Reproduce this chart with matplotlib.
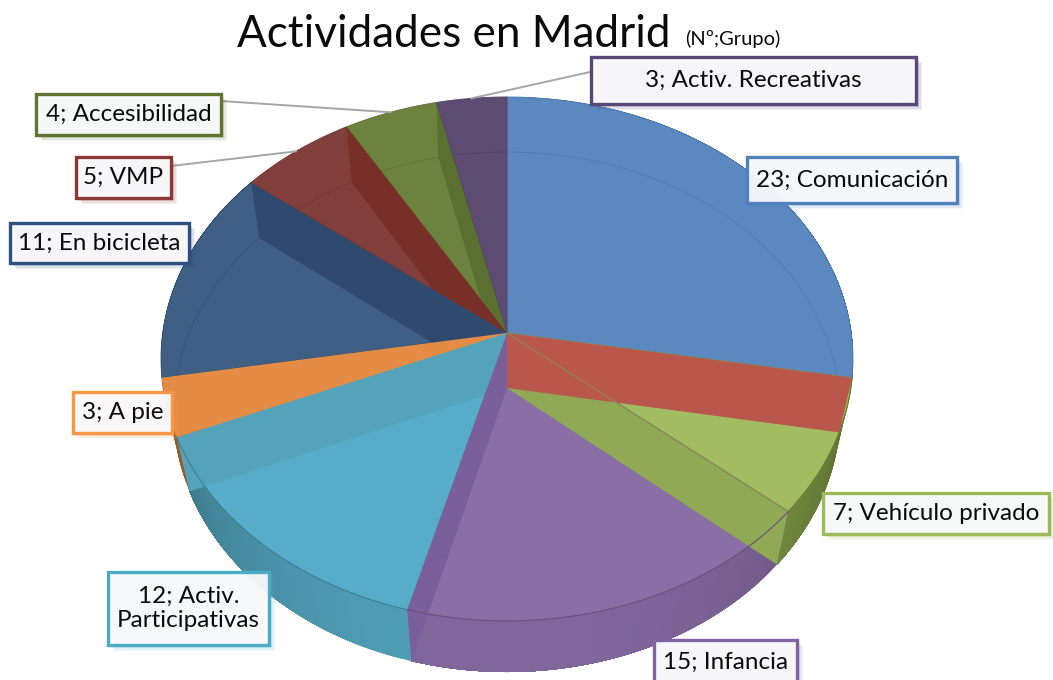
"""
Actividades en Madrid: exploded looking 3D pie, drawn as projected polygons.
"""
import numpy as np
import matplotlib
matplotlib.use("Agg")
import matplotlib.pyplot as plt
from matplotlib.patches import Polygon, Rectangle

names = ["Comunicación", "Vehículo privado", "Infancia", "Activ.\nParticipativas", "A pie",
         "En bicicleta", "VMP", "Accesibilidad", "Activ. Recreativas"]
values = [23, 7, 15, 12, 3, 11, 5, 4, 3]

face_colors = ["#5B88BF", "#A1BC61", "#8A6EA6", "#57ADC9", "#E58D45",
               "#3F5F85", "#823E3B", "#6C833F", "#5D4B72"]
wall_colors = ["#B9574D", "#8FA955", "#7A5F9B", "#55A3BA", "#E48C46",
               "#30496F", "#782F28", "#5A7031", "#5D4B72"]
side_colors = ["#4A78AE", "#7F9A45", "#80669B", "#4F9DB5", "#C9772F",
               "#35506F", "#6E3230", "#5A6E33", "#4E3F60"]
border_colors = ["#4F81BD", "#9BBB59", "#8064A2", "#4BACC6", "#F79646",
                 "#2F4F7F", "#8C3836", "#5F7530", "#5B4678"]

# label box layout in pixels: left, top, right, bottom
boxes = [(747, 157, 957, 203), (823, 493, 1049, 534), (654, 640, 797, 684), (108, 572, 269, 645),
         (73, 392, 172, 433), (10, 223, 189, 263), (76, 157, 171, 198), (36, 94, 221, 135),
         (591, 57, 916, 104)]

# projection of the two rims: centre y, a, b, k
TOP = (333, 259.4, 344.3, 0.099)
BOTTOM = (388, 257.8, 332.0, 0.0923)
CX = 507


def rim(theta, rim_def):
    cy, a, b, k = rim_def
    t = np.radians(theta)
    w = 1 + k * np.cos(t)
    return np.column_stack([CX + b * np.sin(t) / w, cy - a * np.cos(t) / w])


fig = plt.figure(figsize=(10.53, 6.8), dpi=100)
ax = fig.add_axes([0, 0, 1, 1])
ax.set_xlim(0, 1053)
ax.set_ylim(680, 0)
ax.axis("off")

edges = np.concatenate([[0], np.cumsum(values)]) * 360 / sum(values)
apex_top = (CX, TOP[0])
apex_bottom = (CX, BOTTOM[0])

# outer wall, each step painted over the last so no seams show
for i in range(len(values)):
    lo, hi = edges[i], edges[i + 1]
    if hi < 95 or lo > 275:
        continue
    base = np.array(matplotlib.colors.to_rgb(side_colors[i]))
    for s0 in np.arange(lo, hi, 1.5):
        shade = 1 - 0.28 * abs(np.sin(np.radians(s0 + 0.75))) ** 3
        span = np.linspace(s0, hi, 40)
        pts = np.vstack([rim(span, TOP), rim(span[::-1], BOTTOM)])
        ax.add_patch(Polygon(pts, closed=True, fc=base * shade, ec="none", zorder=1))

# faces
sectors = []
for i in range(len(values)):
    arc = rim(np.linspace(edges[i], edges[i + 1], 80), TOP)
    sector = Polygon(np.vstack([apex_top, arc]), closed=True, fc=face_colors[i],
                     ec=side_colors[i], lw=0.6, zorder=2)
    ax.add_patch(sector)
    sectors.append(sector)
    # far rim seen through the face
    inner = rim(np.linspace(edges[i], edges[i + 1], 80), BOTTOM)
    line, = ax.plot(inner[:, 0], inner[:, 1], color=side_colors[i], lw=0.6, alpha=0.8, zorder=3)
    line.set_clip_path(sector)

# radial walls, far slices first
for i in reversed(range(len(values) - 1)):
    end = edges[i + 1]
    pts = np.vstack([apex_top, rim(end, TOP), rim(end, BOTTOM), apex_bottom])
    wall = Polygon(pts, closed=True, fc=wall_colors[i], ec="none", zorder=4 + (len(values) - i) * 0.01)
    ax.add_patch(wall)
    if end > 270:
        wall.set_clip_path(sectors[i])

# front edge of the upper rim
for i in range(1, 4):
    arc = rim(np.linspace(edges[i], edges[i + 1], 80), TOP)
    ax.plot(arc[:, 0], arc[:, 1], color=np.array(matplotlib.colors.to_rgb(side_colors[i])) * 0.8,
            lw=0.8, zorder=5)

# edge of the green slice, it shows through the red wall
green_end = rim(edges[2], TOP)[0]
ax.plot([CX, green_end[0]], [TOP[0], green_end[1]], color="#8C8A52", lw=1.0, alpha=0.8, zorder=5)

# leader lines for the three labels outside the top of the pie
for i, start in [(6, (171, 166)), (7, (221, 101)), (8, (590, 72))]:
    mid = rim((edges[i] + edges[i + 1]) / 2, TOP)[0]
    ax.plot([start[0], mid[0]], [start[1], mid[1]], color="#A6A6A6", lw=1.4, zorder=6)

# data labels
for i, (x0, y0, x1, y1) in enumerate(boxes):
    for off, alpha in [(6, 0.07), (4.5, 0.1), (3, 0.14)]:
        ax.add_patch(Rectangle((x0 + off, y0 + off), x1 - x0, y1 - y0, fc=border_colors[i],
                               ec="none", alpha=alpha, zorder=7))
    ax.add_patch(Rectangle((x0, y0), x1 - x0, y1 - y0, fc=(0.975, 0.975, 0.985, 0.95),
                           ec=border_colors[i], lw=2.4, zorder=8))
    ax.text((x0 + x1) / 2, (y0 + y1) / 2, f"{values[i]}; {names[i]}", ha="center", va="center",
            family="Lato", fontsize=17.5, color="#0A0A0A", linespacing=1.2, zorder=9)

ax.text(237, 47, "Actividades en Madrid", ha="left", va="baseline", family="Lato",
        fontsize=31.7, color="#0A0A0A", zorder=9)
ax.text(685, 45, "(Nº;Grupo)", ha="left", va="baseline", family="Lato", fontsize=14.5,
        color="#0A0A0A", zorder=9)

fig.savefig("out.png", dpi=100)
